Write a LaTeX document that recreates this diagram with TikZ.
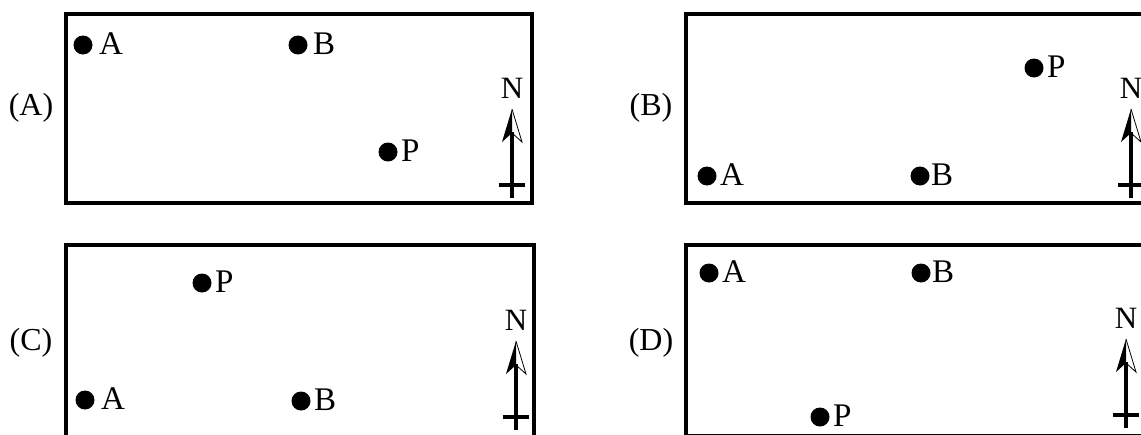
\documentclass[tikz,border=0pt]{standalone}
\usepackage{fontspec}
\setmainfont{Liberation Serif}
\begin{document}
\begin{tikzpicture}[x=1pt,y=-1pt,
  frame/.style={line width=3.5pt},
  dot/.style={circle,fill=black,inner sep=0pt,minimum size=19pt},
  lbl/.style={font=\fontsize{33}{36}\selectfont,anchor=base west,inner sep=0pt},
  opt/.style={font=\fontsize{32}{36}\selectfont,inner sep=0pt},
  compass/.pic={
    \node[font=\fontsize{31}{34}\selectfont,inner sep=0pt] (-n) at (0,0) {N};
    \fill (0,21) -- (-10,54) -- (0,45) -- cycle;
    \draw[line width=0.8pt,line join=miter] (0,21) -- (10,54) -- (0,45);
    \draw[line width=3.6pt] (0,44) -- (0,110);
    \draw[line width=3.6pt] (-13,97) -- (13,97);
  }]
\useasboundingbox (0,0) rectangle (1141,434);
\clip (0,0) rectangle (1141,434);

% frames
\draw[frame] (66,14) rectangle (532,203);
\draw[frame] (686,14) rectangle (1170,203);
\draw[frame] (66,245) rectangle (534,460);
\draw[frame] (686,245) rectangle (1170,435.5);

% option labels
\node[opt] (oa) at (31,108) {(A)};
\node[opt] (ob) at (651,108) {(B)};
\node[opt] (oc) at (31,343) {(C)};
\node[opt] (od) at (651,343) {(D)};

% (A)
\node[dot] (aA) at (83,45) {};  \node[lbl] (aAl) at (99,54) {A};
\node[dot] (aB) at (298,45) {}; \node[lbl] (aBl) at (313,54) {B};
\node[dot] (aP) at (388,152) {}; \node[lbl] (aPl) at (401,161) {P};
\pic (ca) at (512,88) {compass};

% (B)
\node[dot] (bP) at (1034,68) {}; \node[lbl] (bPl) at (1047,77) {P};
\node[dot] (bA) at (707,176) {}; \node[lbl] (bAl) at (720,185) {A};
\node[dot] (bB) at (920,176) {}; \node[lbl] (bBl) at (931,185) {B};
\pic (cb) at (1131,88) {compass};

% (C)
\node[dot] (cP) at (202,283) {}; \node[lbl] (cPl) at (215,292) {P};
\node[dot] (cA) at (85,400) {};  \node[lbl] (cAl) at (101,409) {A};
\node[dot] (cB) at (301,401) {}; \node[lbl] (cBl) at (314,410) {B};
\pic (cc) at (516,320) {compass};

% (D)
\node[dot] (dA) at (709,273) {}; \node[lbl] (dAl) at (722,282) {A};
\node[dot] (dB) at (921,273) {}; \node[lbl] (dBl) at (932,282) {B};
\node[dot] (dP) at (820,417) {}; \node[lbl] (dPl) at (833,426) {P};
\pic (cd) at (1126,318) {compass};
\end{tikzpicture}
\end{document}
